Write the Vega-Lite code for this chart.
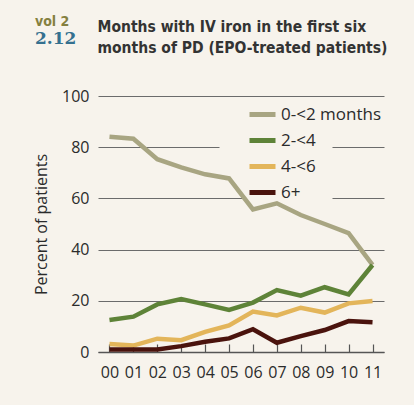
{
  "$schema": "https://vega.github.io/schema/vega-lite/v6.json",
  "autosize": "none",
  "background": "#f7f3ec",
  "padding": {"left": 98, "top": 96, "right": 30, "bottom": 53},
  "width": 286,
  "height": 256,
  "title": {
    "text": "vol 2",
    "subtitle": "2.12",
    "anchor": "start",
    "frame": "group",
    "dx": -63,
    "dy": 58,
    "offset": 30,
    "font": "DejaVu Sans Condensed",
    "fontWeight": "bold",
    "fontSize": 14,
    "color": "#858040",
    "subtitleFont": "DejaVu Serif",
    "subtitleFontWeight": "bold",
    "subtitleFontSize": 17,
    "subtitleColor": "#35708f",
    "subtitlePadding": 2
  },
  "data": {
    "values": [
      {"year": "00", "group": "0-<2 months", "value": 84.1},
      {"year": "01", "group": "0-<2 months", "value": 83.3},
      {"year": "02", "group": "0-<2 months", "value": 75.3},
      {"year": "03", "group": "0-<2 months", "value": 72.1},
      {"year": "04", "group": "0-<2 months", "value": 69.4},
      {"year": "05", "group": "0-<2 months", "value": 67.8},
      {"year": "06", "group": "0-<2 months", "value": 55.7},
      {"year": "07", "group": "0-<2 months", "value": 58.1},
      {"year": "08", "group": "0-<2 months", "value": 53.5},
      {"year": "09", "group": "0-<2 months", "value": 50.0},
      {"year": "10", "group": "0-<2 months", "value": 46.4},
      {"year": "11", "group": "0-<2 months", "value": 34.0},
      {"year": "00", "group": "2-<4", "value": 12.5},
      {"year": "01", "group": "2-<4", "value": 13.8},
      {"year": "02", "group": "2-<4", "value": 18.6},
      {"year": "03", "group": "2-<4", "value": 20.7},
      {"year": "04", "group": "2-<4", "value": 18.6},
      {"year": "05", "group": "2-<4", "value": 16.4},
      {"year": "06", "group": "2-<4", "value": 19.3},
      {"year": "07", "group": "2-<4", "value": 24.2},
      {"year": "08", "group": "2-<4", "value": 22.0},
      {"year": "09", "group": "2-<4", "value": 25.3},
      {"year": "10", "group": "2-<4", "value": 22.5},
      {"year": "11", "group": "2-<4", "value": 34.0},
      {"year": "00", "group": "4-<6", "value": 3.1},
      {"year": "01", "group": "4-<6", "value": 2.5},
      {"year": "02", "group": "4-<6", "value": 5.2},
      {"year": "03", "group": "4-<6", "value": 4.6},
      {"year": "04", "group": "4-<6", "value": 7.9},
      {"year": "05", "group": "4-<6", "value": 10.4},
      {"year": "06", "group": "4-<6", "value": 15.8},
      {"year": "07", "group": "4-<6", "value": 14.3},
      {"year": "08", "group": "4-<6", "value": 17.3},
      {"year": "09", "group": "4-<6", "value": 15.4},
      {"year": "10", "group": "4-<6", "value": 19.0},
      {"year": "11", "group": "4-<6", "value": 19.9},
      {"year": "00", "group": "6+", "value": 1.0},
      {"year": "01", "group": "6+", "value": 1.0},
      {"year": "02", "group": "6+", "value": 1.0},
      {"year": "03", "group": "6+", "value": 2.3},
      {"year": "04", "group": "6+", "value": 4.0},
      {"year": "05", "group": "6+", "value": 5.3},
      {"year": "06", "group": "6+", "value": 8.9},
      {"year": "07", "group": "6+", "value": 3.6},
      {"year": "08", "group": "6+", "value": 6.2},
      {"year": "09", "group": "6+", "value": 8.6},
      {"year": "10", "group": "6+", "value": 12.1},
      {"year": "11", "group": "6+", "value": 11.6}
    ]
  },
  "layer": [
    {
      "mark": {"type": "line", "strokeWidth": 4.5, "strokeJoin": "miter"},
      "encoding": {
        "x": {
          "field": "year",
          "type": "ordinal",
          "scale": {"type": "point", "padding": 0.48},
          "axis": {
            "orient": "bottom",
            "title": null,
            "labelAngle": 0,
            "labelFont": "Open Sans",
            "labelFontSize": 16,
            "labelColor": "#2b2b2b",
            "labelPadding": 20,
            "domainColor": "#555555",
            "domainWidth": 1.5,
            "tickColor": "#555555",
            "tickSize": -8,
            "tickWidth": 1.2,
            "grid": false
          }
        },
        "y": {
          "field": "value",
          "type": "quantitative",
          "scale": {"domain": [0, 100]},
          "axis": {
            "title": "Percent of patients",
            "titleFont": "Open Sans",
            "titleFontSize": 16,
            "titleFontWeight": "normal",
            "titleColor": "#2b2b2b",
            "titlePadding": 12,
            "values": [0, 20, 40, 60, 80, 100],
            "labelFont": "Open Sans",
            "labelFontSize": 16,
            "labelColor": "#2b2b2b",
            "labelPadding": 9,
            "domain": false,
            "ticks": false,
            "grid": true,
            "gridColor": "#6b6b6b",
            "gridWidth": 1,
            "gridDash": {
              "condition": [
                {"test": "datum.value === 80", "value": [121, 113, 100]},
                {"test": "datum.value === 60", "value": [146, 88, 100]}
              ],
              "value": []
            }
          }
        },
        "color": {
          "field": "group",
          "type": "nominal",
          "scale": {
            "domain": ["0-<2 months", "2-<4", "4-<6", "6+"],
            "range": ["#a8a582", "#5e8338", "#e3b55a", "#4a130d"]
          },
          "legend": {
            "title": null,
            "orient": "none",
            "legendX": 149,
            "legendY": 3,
            "padding": 0,
            "symbolType": "stroke",
            "symbolSize": 676,
            "symbolStrokeWidth": 5,
            "labelFont": "Open Sans",
            "labelFontSize": 17,
            "labelColor": "#2b2b2b",
            "labelOffset": 3,
            "rowPadding": 0
          }
        }
      }
    },
    {
      "mark": {"type": "point", "opacity": 0},
      "encoding": {
        "x": {
          "field": "year",
          "type": "ordinal",
          "axis": {
            "orient": "top",
            "title": ["Months with IV iron in the first six", "months of PD (EPO-treated patients)"],
            "titleFont": "DejaVu Sans Condensed",
            "titleFontWeight": "bold",
            "titleFontSize": 15.5,
            "titleLineHeight": 21,
            "titleColor": "#333333",
            "titleAlign": "left",
            "titleBaseline": "alphabetic",
            "titleAnchor": "start",
            "titleX": -1,
            "titleY": -65,
            "labels": false,
            "ticks": false,
            "domain": false,
            "grid": false
          }
        }
      }
    }
  ],
  "resolve": {"axis": {"x": "independent"}},
  "config": {"view": {"stroke": null}}
}
